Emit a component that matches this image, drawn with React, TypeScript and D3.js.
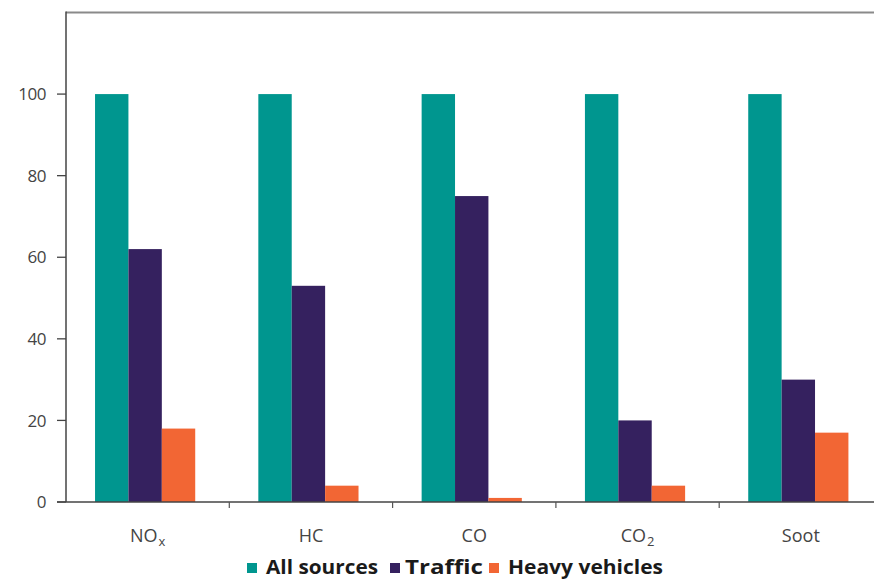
import React from "react";
import * as d3 from "d3";

const categories = ["NOx", "HC", "CO", "CO2", "Soot"];
const seriesNames = ["All sources", "Traffic", "Heavy vehicles"];
const allSources = [100, 100, 100, 100, 100];
const traffic = [62, 53, 75, 20, 30];
const heavyVehicles = [18, 4, 1, 4, 17];
const yTicks = [0, 20, 40, 60, 80, 100];
const colors = ["#00968f", "#35215f", "#f26634"];

const W = 874;
const H = 581;
const margin = { left: 66, right: -8.5, top: 12.5, bottom: 79 };

export default function App() {
  const series = [allSources, traffic, heavyVehicles];
  const x0 = d3
    .scaleBand<string>()
    .domain(categories)
    .range([margin.left, W - margin.right])
    .paddingInner(0)
    .paddingOuter(0);
  const x1 = d3
    .scaleBand<string>()
    .domain(seriesNames)
    .range([0, x0.bandwidth()])
    .paddingOuter(0.945)
    .paddingInner(0)
    .align(0.46);
  const y = d3.scaleLinear().domain([0, 120]).range([H - margin.bottom, margin.top]);
  const y0 = y(0);
  const font = "'Open Sans', 'Lato', sans-serif";
  const boundaries = d3.range(categories.length + 1).map((i) => margin.left + i * x0.bandwidth());

  const renderLabel = (c: string) => {
    if (c === "NOx")
      return (
        <>
          N<tspan letterSpacing={1}>O</tspan><tspan fontSize={13} dy={4}>x</tspan>
        </>
      );
    if (c === "CO2")
      return (
        <>
          C<tspan letterSpacing={1}>O</tspan><tspan fontSize={13} dy={4}>2</tspan>
        </>
      );
    return c;
  };

  const legendItems = [
    { name: seriesNames[0], color: colors[0], x: 247, tx: 266, w: 112 },
    { name: seriesNames[1], color: colors[1], x: 390, tx: 405, w: 78 },
    { name: seriesNames[2], color: colors[2], x: 489, tx: 508, w: 155 },
  ];

  return (
    <svg
      width={W}
      height={H}
      style={{ position: "absolute", left: 0, top: 0, background: "#fff" }}
      fontFamily={font}
    >
      {/* top border */}
      <line x1={margin.left} x2={W} y1={margin.top} y2={margin.top} stroke="#8a8a8a" strokeWidth={2} />
      {/* bars */}
      {categories.map((c, ci) => (
        <g key={c} transform={`translate(${x0(c)},0)`}>
          {series.map((s, si) => (
            <rect
              key={si}
              x={x1(seriesNames[si])}
              y={y(s[ci])}
              width={x1.bandwidth()}
              height={y0 - y(s[ci])}
              fill={colors[si]}
            />
          ))}
        </g>
      ))}
      {/* y axis */}
      <line x1={margin.left} x2={margin.left} y1={margin.top - 1} y2={y0} stroke="#444" strokeWidth={1.5} />
      {yTicks.map((t) => (
        <g key={t}>
          <line x1={margin.left - 9} x2={margin.left} y1={y(t)} y2={y(t)} stroke="#444" strokeWidth={1.3} />
          <text x={46} y={y(t)} dy="0.36em" textAnchor="end" fontSize={17} fill="#444" letterSpacing={-0.5}>
            {t}
          </text>
        </g>
      ))}
      {/* x axis */}
      <line x1={margin.left - 9} x2={W} y1={y0} y2={y0} stroke="#444" strokeWidth={1.5} />
      {boundaries.slice(1).map((b, i) => (
        <line key={i} x1={b} x2={b} y1={y0} y2={y0 + 6} stroke="#555" strokeWidth={1.2} />
      ))}
      {categories.map((c) => (
        <text
          key={c}
          x={(x0(c) as number) + x0.bandwidth() / 2}
          y={542}
          textAnchor="middle"
          fontSize={18}
          fill="#444"
        >
          {renderLabel(c)}
        </text>
      ))}
      {/* legend */}
      {legendItems.map((it) => (
        <g key={it.name}>
          <rect x={it.x} y={563} width={10} height={10} fill={it.color} />
          <text
            x={it.tx}
            y={574}
            fontSize={19}
            fontWeight="bold"
            fill="#1a1a1a"
            textLength={it.w}
            lengthAdjust="spacingAndGlyphs"
          >
            {it.name}
          </text>
        </g>
      ))}
    </svg>
  );
}
